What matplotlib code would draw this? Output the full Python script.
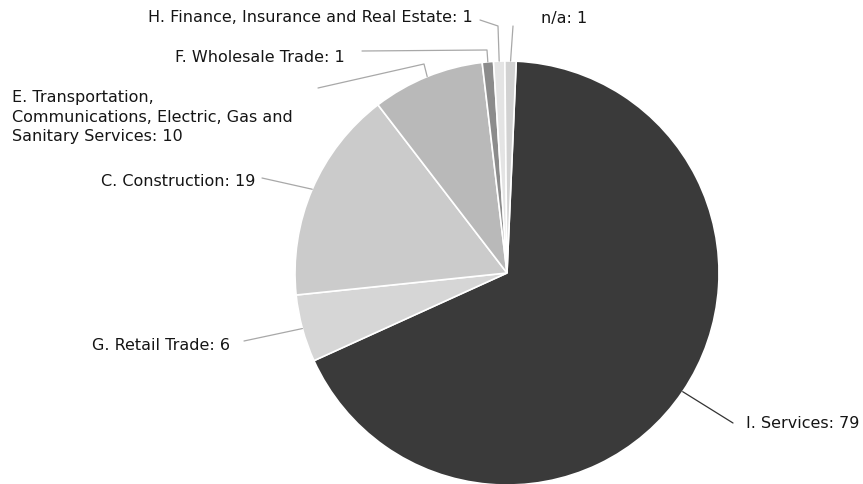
"""Industry breakdown pie chart (grayscale, Highcharts-like labels)."""

import matplotlib
matplotlib.use("Agg")
import matplotlib.pyplot as plt
import numpy as np

# ---- data ----
labels = [
    "I. Services",
    "G. Retail Trade",
    "C. Construction",
    "E. Transportation,\nCommunications, Electric, Gas and\nSanitary Services",
    "F. Wholesale Trade",
    "H. Finance, Insurance and Real Estate",
    "n/a",
]
values = [79, 6, 19, 10, 1, 1, 1]
colors = ["#3a3a3a", "#d6d6d6", "#cbcbcb", "#b9b9b9", "#8c8c8c", "#e4e4e4", "#d2d2d2"]

# ---- layout (pixel coords, y measured from top) ----
W, H = 863, 484
CX, CY, R = 507, 273, 212
START = 87.5

# label text anchor (x, y, ha) and connector end point
label_pos = [
    (746, 424, "left"),
    (230, 346, "right"),
    (255, 181, "right"),
    (12, 117, "left"),
    (345, 57, "right"),
    (473, 18, "right"),
    (541, 18, "left"),
]
conn_end = [
    (733, 423),
    (244, 341),
    (262, 178),
    (318, 88),
    (362, 51),
    (480, 20),
    (513, 26),
]
conn_elbow = [
    None,
    None,
    None,
    (424, 64),
    (487, 50),
    (498, 26),
    None,
]


def main():
    fig = plt.figure(figsize=(W / 100, H / 100), dpi=100)
    ax = fig.add_axes([0, 0, 1, 1])
    ax.set_xlim(0, W)
    ax.set_ylim(0, H)
    ax.set_aspect("equal")
    ax.axis("off")

    wedges, _ = ax.pie(
        values, colors=colors, startangle=START, counterclock=False,
        center=(CX, H - CY), radius=R,
        wedgeprops=dict(edgecolor="white", linewidth=1.2),
    )
    ax.set_xlim(0, W)
    ax.set_ylim(0, H)

    for i, w in enumerate(wedges):
        mid = np.deg2rad((w.theta1 + w.theta2) / 2)
        x0 = CX + R * np.cos(mid)
        y0 = (H - CY) + R * np.sin(mid)
        xs, ys = [x0], [y0]
        if conn_elbow[i] is not None:
            xs.append(conn_elbow[i][0])
            ys.append(H - conn_elbow[i][1])
        xs.append(conn_end[i][0])
        ys.append(H - conn_end[i][1])
        lc = "#333333" if i == 0 else "#a8a8a8"
        ax.plot(xs, ys, color=lc, linewidth=0.9, solid_capstyle="round")

        tx, ty, ha = label_pos[i]
        ax.text(tx, H - ty, f"{labels[i]}: {values[i]}", ha=ha, va="center",
                fontsize=11.5, color="#151515", linespacing=1.4)

    fig.savefig("out.png", dpi=100)
    plt.close(fig)


if __name__ == "__main__":
    main()
